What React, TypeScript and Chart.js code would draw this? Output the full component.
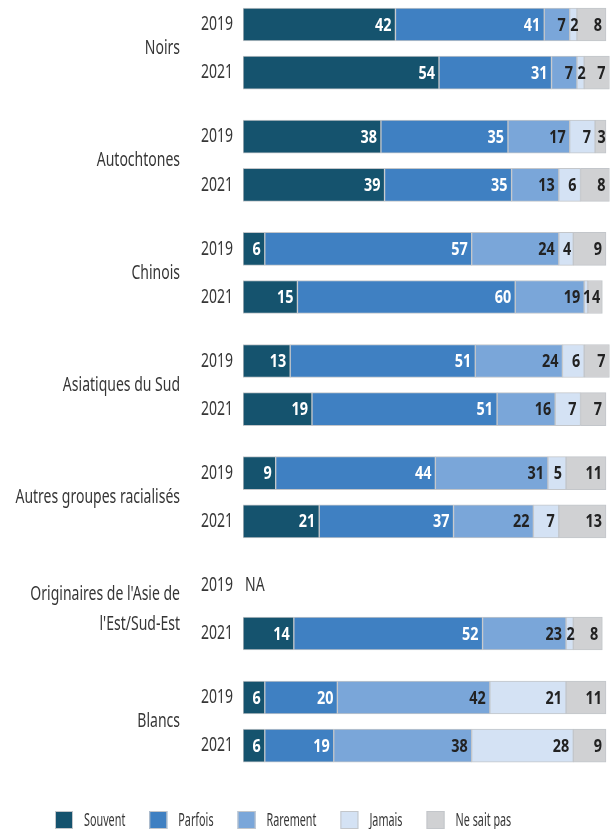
import React, { useEffect, useRef } from 'react';
import { Chart, registerables } from 'chart.js';
Chart.register(...registerables);

const groups: (string | string[])[] = [
  'Noirs',
  'Autochtones',
  'Chinois',
  'Asiatiques du Sud',
  'Autres groupes racialisés',
  ["Originaires de l'Asie de", "l'Est/Sud-Est"],
  'Blancs',
];
const years = ['2019', '2021'];
const seriesNames = ['Souvent', 'Parfois', 'Rarement', 'Jamais', 'Ne sait pas'];
// rows: group-major, 2019 then 2021
const souvent = [42, 54, 38, 39, 6, 15, 13, 19, 9, 21, null, 14, 6, 6];
const parfois = [41, 31, 35, 35, 57, 60, 51, 51, 44, 37, null, 52, 20, 19];
const rarement = [7, 7, 17, 13, 24, 19, 24, 16, 31, 22, null, 23, 42, 38];
const jamais = [2, 2, 7, 6, 4, 1, 6, 7, 5, 7, null, 2, 21, 28];
const neSaitPas = [8, 7, 3, 8, 9, 4, 7, 7, 11, 13, null, 8, 11, 9];
const naText = 'NA';

const seriesValues = [souvent, parfois, rarement, jamais, neSaitPas];
const colors = ['#15536e', '#3f80c2', '#7aa6d9', '#d4e2f4', '#d0d1d3'];
const labelColors = ['#ffffff', '#ffffff', '#222222', '#222222', '#222222'];

const FONT = "'Noto Sans', sans-serif";
const TEXT = '#363636';
const BORDER = '#c3c6ca';

const W = 616;
const H = 829;
const AREA_H = 800;
const FIRST_ROW = 24.5; // layout: pixel offset of first row
const GROUP_STEP = 112.16;
const YEAR_STEP = 48.2;

const rowPos = (i: number) => Math.floor(i / 2) * GROUP_STEP + (i % 2) * YEAR_STEP;

function condensed(ctx: CanvasRenderingContext2D, txt: string, x: number, y: number, f: number) {
  const w = ctx.measureText(txt).width;
  ctx.fillText(txt, x, y, w * f);
  return w * f;
}

const labelsPlugin = {
  id: 'customLabels',
  afterDatasetsDraw(chart: any) {
    const ctx = chart.ctx as CanvasRenderingContext2D;
    const ys = chart.scales.y;
    const area = chart.chartArea;
    ctx.save();
    ctx.textBaseline = 'middle';
    // data labels
    ctx.font = `bold 18px ${FONT}`;
    const LF = 0.8;
    chart.data.datasets.forEach((ds: any, di: number) => {
      const meta = chart.getDatasetMeta(di);
      meta.data.forEach((el: any, i: number) => {
        const v = ds.data[i].x;
        if (v == null) return;
        const { x, base, y } = el.getProps(['x', 'base', 'y'], true);
        const w = Math.abs(x - base);
        const txt = String(v);
        const tw = ctx.measureText(txt).width * LF;
        ctx.fillStyle = labelColors[di];
        if (tw + 7 > w) {
          ctx.textAlign = 'center';
          condensed(ctx, txt, (x + base) / 2 + 1, y + 1, LF);
        } else {
          ctx.textAlign = 'right';
          condensed(ctx, txt, x - 4, y + 1, LF);
        }
      });
    });
    // year labels
    const TF = 0.7;
    ctx.font = `20px ${FONT}`;
    ctx.fillStyle = TEXT;
    const nRows = groups.length * years.length;
    for (let i = 0; i < nRows; i++) {
      const py = ys.getPixelForValue(rowPos(i));
      ctx.textAlign = 'right';
      condensed(ctx, years[i % 2], 233, py, TF);
      if (seriesValues[0][i] == null) {
        ctx.textAlign = 'left';
        condensed(ctx, naText, area.left + 2, py, TF);
      }
    }
    // group labels
    ctx.textAlign = 'right';
    groups.forEach((g, gi) => {
      const p1 = ys.getPixelForValue(gi * GROUP_STEP);
      const p2 = ys.getPixelForValue(gi * GROUP_STEP + YEAR_STEP);
      const mid = (p1 + p2) / 2;
      const lines = Array.isArray(g) ? g : [g];
      const lh = 30;
      lines.forEach((l, li) => {
        condensed(ctx, l, 180, mid + (li - (lines.length - 1) / 2) * lh, TF);
      });
    });
    ctx.restore();
  },
  afterDraw(chart: any) {
    // legend
    const ctx = chart.ctx as CanvasRenderingContext2D;
    ctx.save();
    ctx.font = `18px ${FONT}`;
    ctx.textBaseline = 'middle';
    ctx.textAlign = 'left';
    const F = 0.6;
    let x = 55;
    const top = 811;
    const box = 18;
    seriesNames.forEach((n, i) => {
      ctx.fillStyle = colors[i];
      ctx.fillRect(x, top, box, box);
      ctx.strokeStyle = BORDER;
      ctx.lineWidth = 1;
      ctx.strokeRect(x + 0.5, top + 0.5, box - 1, box - 1);
      ctx.fillStyle = TEXT;
      const tw = condensed(ctx, n, x + box + 11, top + box / 2 + 1, F);
      x += box + 11 + tw + 24;
    });
    ctx.restore();
  },
};

export default function App() {
  const ref = useRef<HTMLCanvasElement>(null);
  useEffect(() => {
    if (!ref.current) return;
    const yMin = -FIRST_ROW;
    const yMax = yMin + AREA_H;
    const chart = new Chart(ref.current, {
      type: 'bar',
      data: {
        datasets: seriesNames.map((name, si) => ({
          label: name,
          data: seriesValues[si]
            .map((v, i) => ({ x: v, y: rowPos(i) }))
            .filter((p) => p.x != null) as any,
          backgroundColor: colors[si],
          borderColor: BORDER,
          borderWidth: 1,
          borderSkipped: false,
          barThickness: 33,
        })),
      },
      options: {
        indexAxis: 'y',
        animation: false,
        responsive: false,
        layout: { padding: { left: 243, right: 6.4, top: 0, bottom: H - AREA_H } },
        scales: {
          x: { type: 'linear', stacked: true, min: 0, max: 101, display: false },
          y: {
            type: 'linear',
            stacked: true,
            reverse: true,
            offset: false,
            min: yMin,
            max: yMax,
            display: false,
          },
        },
        plugins: {
          legend: { display: false },
          tooltip: { enabled: false },
        },
      },
      plugins: [labelsPlugin],
    });
    return () => chart.destroy();
  }, []);

  return (
    <div style={{ position: 'absolute', left: 0, top: 0, width: W, height: H, background: '#fff' }}>
      <canvas ref={ref} width={W} height={H} style={{ display: 'block', width: W, height: H }} />
    </div>
  );
}
